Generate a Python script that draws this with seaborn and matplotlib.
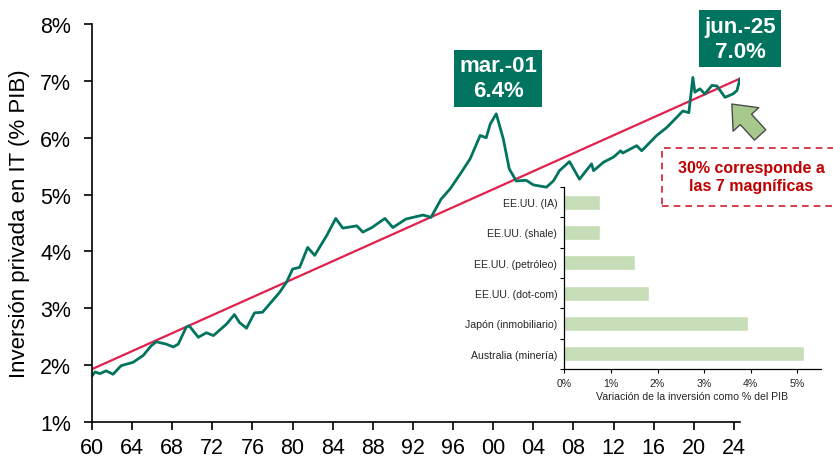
import numpy as np
import pandas as pd
import matplotlib.pyplot as plt
from matplotlib.patches import Rectangle
import seaborn as sns

# main series: private IT investment, % of GDP (x in chart years)
years = [1960.0, 1960.3, 1960.8, 1961.4, 1962.1, 1962.9, 1964.1, 1965.1, 1965.9, 1966.4,
         1967.4, 1968.1, 1968.6, 1969.4, 1969.7, 1970.6, 1971.4, 1972.1, 1973.4, 1974.2,
         1974.7, 1975.4, 1976.2, 1977.0, 1978.7, 1979.4, 1980.0, 1980.7, 1981.5, 1982.2,
         1983.4, 1984.3, 1985.0, 1986.4, 1987.0, 1987.9, 1989.2, 1990.0, 1991.3, 1993.0,
         1993.8, 1994.8, 1995.7, 1996.7, 1997.7, 1998.7, 1999.3, 1999.7, 2000.3, 2001.0,
         2001.6, 2002.3, 2003.3, 2004.0, 2005.3, 2006.0, 2006.6, 2007.6, 2008.6, 2009.0,
         2009.8, 2010.0, 2011.0, 2012.0, 2012.7, 2012.9, 2014.3, 2014.8, 2016.3, 2017.3,
         2018.3, 2018.9, 2019.5, 2019.9, 2020.1, 2020.6, 2021.1, 2021.8, 2022.3, 2023.1,
         2023.9, 2024.3, 2024.6]
inversion = [1.81, 1.88, 1.85, 1.90, 1.84, 1.99, 2.05, 2.17, 2.34, 2.41,
             2.37, 2.32, 2.37, 2.67, 2.69, 2.49, 2.57, 2.52, 2.72, 2.89,
             2.75, 2.65, 2.92, 2.93, 3.28, 3.46, 3.69, 3.72, 4.07, 3.93,
             4.28, 4.58, 4.41, 4.45, 4.34, 4.42, 4.58, 4.42, 4.57, 4.64,
             4.60, 4.92, 5.10, 5.36, 5.63, 6.04, 6.00, 6.24, 6.42, 5.98,
             5.45, 5.24, 5.25, 5.17, 5.13, 5.24, 5.42, 5.58, 5.27, 5.36,
             5.54, 5.42, 5.57, 5.66, 5.77, 5.73, 5.86, 5.77, 6.04, 6.18,
             6.36, 6.47, 6.44, 7.06, 6.80, 6.86, 6.77, 6.92, 6.91, 6.71,
             6.77, 6.83, 7.04]

trend_years = [1960.0, 2024.6]
trend_vals = [1.93, 7.04]

xtick_years = list(range(1960, 2025, 4))
xtick_labels = [f"{y % 100:02d}" for y in xtick_years]
ytick_vals = [1, 2, 3, 4, 5, 6, 7, 8]

# inset: investment booms
booms = ["EE.UU. (IA)", "EE.UU. (shale)", "EE.UU. (petróleo)", "EE.UU. (dot-com)",
         "Japón (inmobiliario)", "Australia (minería)"]
boom_vals = [0.76, 0.77, 1.51, 1.81, 3.93, 5.15]

GREEN = "#00745F"
RED = "#E2204E"

sns.set_theme(style="ticks")
plt.rcParams['font.family'] = ['Liberation Sans', 'DejaVu Sans']

fig = plt.figure(figsize=(8.33, 4.6), dpi=100)
ax = fig.add_axes([92 / 833, 37 / 460, 648 / 833, 398 / 460])

df = pd.DataFrame({'year': years, 'val': inversion})
tdf = pd.DataFrame({'year': trend_years, 'val': trend_vals})
sns.lineplot(data=tdf, x='year', y='val', ax=ax, color=RED, lw=1.6)
sns.lineplot(data=df, x='year', y='val', ax=ax, color=GREEN, lw=2.0)

ax.set_xlim(1960, 2024.6)
ax.set_ylim(1, 8)
ax.set_xticks(xtick_years)
ax.set_xticklabels(xtick_labels)
ax.set_yticks(ytick_vals)
ax.set_yticklabels([f"{v}%" for v in ytick_vals])
ax.tick_params(labelsize=15.5, length=6, width=1.2, color='black', labelcolor='black')
ax.tick_params(axis='y', pad=9)
ax.tick_params(axis='x', pad=5)
ax.set_xlabel('')
ax.set_ylabel('Inversión privada en IT (% PIB)', fontsize=16, color='black', labelpad=7)
for s in ['top', 'right']:
    ax.spines[s].set_visible(False)
for s in ['left', 'bottom']:
    ax.spines[s].set_color('black')
    ax.spines[s].set_linewidth(1.2)
ax.set_facecolor('none')

# annotation boxes
box = dict(boxstyle='square,pad=0.25', fc=GREEN, ec='none')
fig.text(498 / 833, 1 - 79.5 / 460, 'mar.-01\n6.4%', ha='center', va='center', fontsize=16,
         fontweight='bold', color='white', bbox=box, linespacing=1.25)
fig.text(740 / 833, 1 - 39.5 / 460, 'jun.-25\n7.0%', ha='center', va='center', fontsize=16,
         fontweight='bold', color='white', bbox=box, linespacing=1.25)

# arrow towards the latest reading
ax.annotate('', xy=(730 / 833, 1 - 103 / 460), xytext=(762 / 833, 1 - 138 / 460),
            xycoords='figure fraction', textcoords='figure fraction',
            arrowprops=dict(arrowstyle='simple,head_length=0.75,head_width=1.25,tail_width=0.55',
                            mutation_scale=20, fc='#A8C98D', ec='#4A4A4A', lw=1.0))

# dashed note
fig.add_artist(Rectangle((662 / 833, 1 - 207 / 460), 180 / 833, 58 / 460,
                         transform=fig.transFigure, fill=False, ec='#D0202E',
                         ls=(0, (4, 3)), lw=1.2))
fig.text(751 / 833, 1 - 177 / 460, '30% corresponde a\nlas 7 magníficas', ha='center',
         va='center', fontsize=11.5, fontweight='bold', color='#C00000', linespacing=1.25)

# inset bar chart
ax2 = fig.add_axes([564.3 / 833, 90 / 460, 256.4 / 833, 182 / 460])
ax2.set_facecolor('none')
sns.barplot(x=boom_vals, y=booms, orient='h', color='#C6DDB8', width=0.5,
            saturation=1, ax=ax2)
ax2.set_xlim(0, 5.5)
ax2.set_ylim(5.5, -0.5)
ax2.set_xticks([0, 1, 2, 3, 4, 5])
ax2.set_xticklabels(['0%', '1%', '2%', '3%', '4%', '5%'])
ax2.set_yticks(np.arange(-0.5, 6, 1), minor=True)
ax2.tick_params(axis='y', which='major', length=0, labelsize=7.6, labelcolor='#262626', pad=5)
ax2.tick_params(axis='y', which='minor', length=3, width=0.8, color='black')
ax2.tick_params(axis='x', length=3, width=0.8, labelsize=7.6, labelcolor='#262626', color='black')
ax2.set_xlabel('Variación de la inversión como % del PIB', fontsize=7.6, color='#262626', labelpad=2)
ax2.set_ylabel('')
for s in ['top', 'right']:
    ax2.spines[s].set_visible(False)
for s in ['left', 'bottom']:
    ax2.spines[s].set_color('black')
    ax2.spines[s].set_linewidth(0.9)

fig.savefig('out.png', dpi=100)
